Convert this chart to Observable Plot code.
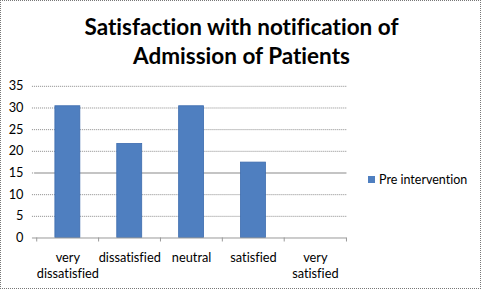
<!DOCTYPE html>
<html>
<head>
<meta charset="utf-8">
<script src="https://cdn.jsdelivr.net/npm/d3@7"></script>
<script src="https://cdn.jsdelivr.net/npm/@observablehq/plot@0.6"></script>
<style>
  html, body { margin: 0; padding: 0; background: #fff; }
  #wrap { position: relative; width: 479px; height: 287px; border: 1px dotted #777; overflow: hidden; font-family: Lato, "Open Sans", sans-serif; font-variant-ligatures: none; }
  #title { position: absolute; left: 0; width: 481px; top: 12px; text-align: center; font-weight: bold; font-size: 22.5px; line-height: 28.5px; color: #000; }
  #chart { position: absolute; left: -1px; top: -1px; }
  #chart svg text { font-variant-ligatures: none; }
  #legend { position: absolute; left: 367px; top: 171px; font-size: 12.5px; color: #000; display: flex; align-items: center; }
  #legend .sw { width: 7px; height: 7px; background: #4f7fc0; margin-right: 4px; }
</style>
</head>
<body>
<div id="wrap">
  <div id="chart"></div>
  <div id="title">Satisfaction with notification of<br>Admission of Patients</div>
  <div id="legend"><span class="sw"></span><span id="legtext"></span></div>
</div>
<script>
const categories = ["very dissatisfied", "dissatisfied", "neutral", "satisfied", "very satisfied"];
const categoryLabels = ["very\ndissatisfied", "dissatisfied", "neutral", "satisfied", "very\nsatisfied"];
const seriesName = "Pre intervention";
const preIntervention = [30.4, 21.7, 30.4, 17.4, 0];
const yTicks = [0, 5, 10, 15, 20, 25, 30, 35];

const data = categories.map((c, i) => ({category: c, value: preIntervention[i]}));
const labelOf = new Map(categories.map((c, i) => [c, categoryLabels[i]]));

const W = 481, H = 289;
const mL = 35, mR = 134, mT = 86, mB = 51;
const step = (W - mL - mR) / categories.length;

const plot = Plot.plot({
  width: W,
  height: H,
  marginLeft: mL,
  marginRight: mR,
  marginTop: mT,
  marginBottom: mB,
  style: {fontFamily: "Lato, 'Open Sans', sans-serif", fontSize: "12.8px", color: "#000", background: "transparent"},
  x: {domain: categories, paddingInner: 0.6, paddingOuter: 0.3},
  y: {domain: [0, 35]},
  marks: [
    Plot.ruleY(yTicks.filter(d => d > 0), {stroke: "#8a8a8a", strokeDasharray: "1,1", strokeWidth: 1, insetLeft: -3}),
    Plot.ruleY([15], {stroke: "#c4c4c4", strokeWidth: 2}),
    Plot.barY(data, {x: "category", y: "value", fill: "#4f7fc0", stroke: "#3d6cae", strokeWidth: 0.8}),
    Plot.ruleY([0], {stroke: "#9a9a9a", strokeWidth: 1, insetLeft: -3}),
    Plot.ruleX(categories, {x: d => d, y1: 0, y2: 0, insetBottom: -4, dx: -step / 2, stroke: "#9a9a9a"}),
    Plot.ruleX(categories.slice(-1), {x: d => d, y1: 0, y2: 0, insetBottom: -4, dx: step / 2, stroke: "#9a9a9a"}),
    Plot.axisY({ticks: yTicks, tickSize: 0, tickPadding: 12, label: null, fill: "#000"}),
    Plot.axisX({tickSize: 0, tickPadding: 12, label: null, tickFormat: d => labelOf.get(d), lineHeight: 1.3, fill: "#000"})
  ]
});
document.getElementById("chart").appendChild(plot);
document.getElementById("legtext").textContent = seriesName;
</script>
</body>
</html>
